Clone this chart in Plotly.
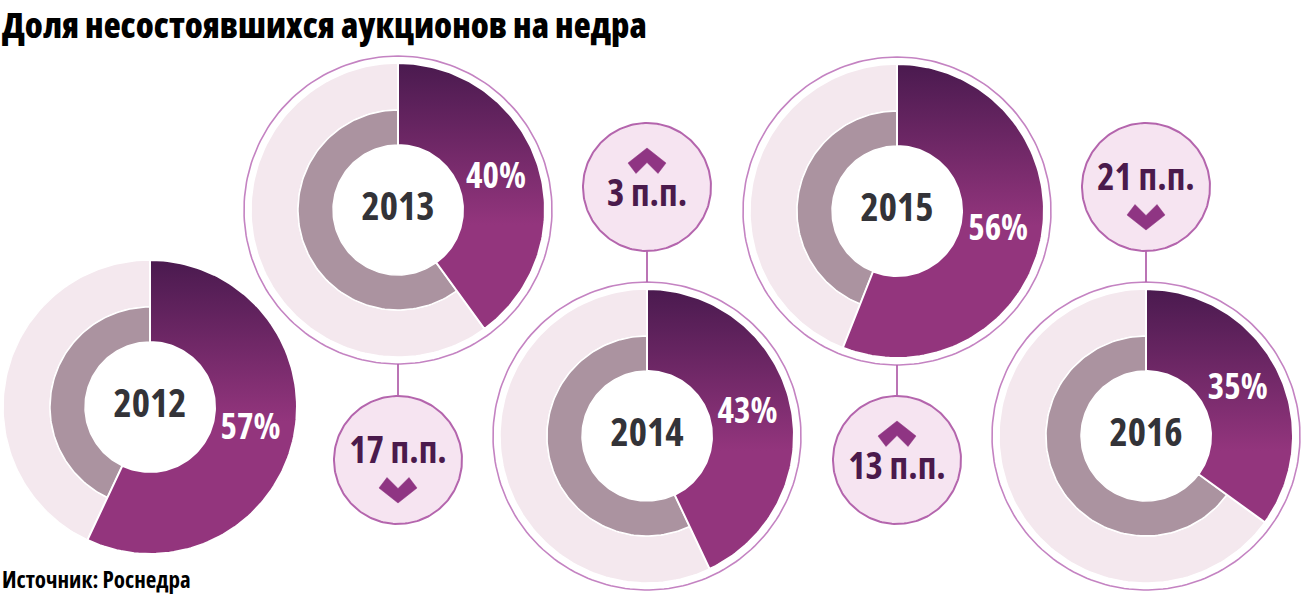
import numpy as np
import plotly.graph_objects as go

# ---- data ----
years = ["2012", "2013", "2014", "2015", "2016"]
shares = [57, 40, 43, 56, 35]          # % of failed auctions
title_text = "Доля несостоявшихся аукционов на недра"
source_text = "Источник: Роснедра"
unit = "п.п."

# ---- layout (pixel space) ----
W, H = 1301, 595
centers_x = [150, 398, 647, 897, 1146]
centers_y = [407, 210, 436, 211, 436]
outlined = [False, True, True, True, True]
R_OUT, R_MID, R_HOLE, R_RING = 147, 100, 65, 154
R_BADGE = 64

PINK = "#f4e8ee"
GRAY = "#ab93a0"
DARK = "#4a1a4f"
LIGHT = "#93357d"
RING = "#c483c2"
BADGE_FILL = "#f6e4f1"
BADGE_LINE = "#b465ad"
BADGE_TEXT = "#4a1a4c"
CHEV = "#8f3583"

FONT = "Open Sans, Roboto, DejaVu Sans Condensed, sans-serif"


def cond(s, weight=700):
    return f"<span style='font-stretch:condensed;font-weight:{weight}'>{s}</span>"


def sector(cx, cy, f0, f1, r_in, r_out, n=120):
    t = np.linspace(2 * np.pi * f0, 2 * np.pi * f1, n)
    xo = cx + r_out * np.sin(t)
    yo = cy - r_out * np.cos(t)
    xi = cx + r_in * np.sin(t[::-1])
    yi = cy - r_in * np.cos(t[::-1])
    xs = np.concatenate([xo, xi, xo[:1]])
    ys = np.concatenate([yo, yi, yo[:1]])
    return xs, ys


def circle(cx, cy, r, n=200):
    t = np.linspace(0, 2 * np.pi, n)
    return cx + r * np.sin(t), cy - r * np.cos(t)


fig = go.Figure()

for i, (yr, v) in enumerate(zip(years, shares)):
    cx, cy = centers_x[i], centers_y[i]
    f = v / 100.0
    if outlined[i]:
        xs, ys = circle(cx, cy, R_RING)
        fig.add_trace(go.Scatter(x=xs, y=ys, mode="lines",
                                 line=dict(color=RING, width=1.6),
                                 hoverinfo="skip", showlegend=False))
    # pink remainder (outer ring)
    xs, ys = sector(cx, cy, f, 1.0, R_MID, R_OUT)
    fig.add_trace(go.Scatter(x=xs, y=ys, mode="lines", fill="toself",
                             fillcolor=PINK, line=dict(color="white", width=1.5),
                             hoverinfo="skip", showlegend=False))
    # gray remainder (inner ring)
    xs, ys = sector(cx, cy, f, 1.0, R_HOLE, R_MID)
    fig.add_trace(go.Scatter(x=xs, y=ys, mode="lines", fill="toself",
                             fillcolor=GRAY, line=dict(color="white", width=1.5),
                             hoverinfo="skip", showlegend=False))
    # purple share wedge
    xs, ys = sector(cx, cy, 0.0, f, R_HOLE, R_OUT)
    fig.add_trace(go.Scatter(x=xs, y=ys, mode="lines", fill="toself",
                             fillcolor=LIGHT,
                             fillgradient=dict(type="vertical",
                                               colorscale=[[0, DARK], [1, LIGHT]],
                                               start=cy - R_OUT, stop=cy + 0.1 * R_OUT),
                             line=dict(color="white", width=2),
                             hoverinfo="skip", showlegend=False))
    # labels
    mid = 2 * np.pi * f / 2
    lx = cx + 103 * np.sin(mid)
    ly = cy - 103 * np.cos(mid)
    fig.add_trace(go.Scatter(x=[lx], y=[ly + 1], mode="text", text=[cond(f"{v}%")],
                             textfont=dict(family=FONT, size=35, color="white"),
                             hoverinfo="skip", showlegend=False))
    fig.add_trace(go.Scatter(x=[cx], y=[cy], mode="text", text=[cond(yr)],
                             textfont=dict(family=FONT, size=39, color="#333338"),
                             hoverinfo="skip", showlegend=False))

# ---- change badges ----
for i in range(1, len(shares)):
    d = shares[i] - shares[i - 1]
    cx = centers_x[i]
    dcy = centers_y[i]
    above = dcy > 300          # donut is low -> badge above it
    if above:
        by = 187
        ly0, ly1 = by + R_BADGE, dcy - R_RING
    else:
        by = 460
        ly0, ly1 = dcy + R_RING, by - R_BADGE
    # connector
    fig.add_trace(go.Scatter(x=[cx, cx], y=[ly0, ly1], mode="lines",
                             line=dict(color=BADGE_LINE, width=1.8),
                             hoverinfo="skip", showlegend=False))
    xs, ys = circle(cx, by, R_BADGE)
    fig.add_trace(go.Scatter(x=xs, y=ys, mode="lines", fill="toself",
                             fillcolor=BADGE_FILL, line=dict(color=BADGE_LINE, width=2),
                             hoverinfo="skip", showlegend=False))
    up = d > 0
    if up:
        chev_y, text_y = by - 26, by + 10
        sgn = -1
    else:
        chev_y, text_y = by + 30, by - 6
        sgn = 1
    # chevron polygon (pointing down if sgn=1)
    px = np.array([-19, -11, 0, 11, 19, 0, -19])
    py = np.array([-2, -12.5, -1.5, -12.5, -2, 13, -2]) * sgn
    fig.add_trace(go.Scatter(x=cx + px, y=chev_y + py, mode="lines", fill="toself",
                             fillcolor=CHEV, line=dict(color=CHEV, width=0.5),
                             hoverinfo="skip", showlegend=False))
    fig.add_trace(go.Scatter(x=[cx], y=[text_y], mode="text",
                             text=[cond(f"{abs(d)} {unit}")],
                             textfont=dict(family=FONT, size=37, color=BADGE_TEXT),
                             hoverinfo="skip", showlegend=False))

fig.add_annotation(x=0, y=24, xref="x", yref="y", xanchor="left", yanchor="middle",
                   text=cond(title_text, 800), showarrow=False,
                   font=dict(family=FONT, size=35, color="#000000"))
fig.add_annotation(x=0, y=579, xref="x", yref="y", xanchor="left", yanchor="middle",
                   text=cond(source_text), showarrow=False,
                   font=dict(family=FONT, size=23, color="#000000"))

fig.update_layout(
    width=W, height=H,
    margin=dict(l=0, r=0, t=0, b=0),
    paper_bgcolor="white", plot_bgcolor="white",
    xaxis=dict(range=[0, W], visible=False, fixedrange=True),
    yaxis=dict(range=[H, 0], visible=False, fixedrange=True),
    showlegend=False,
)

fig.write_html("out.html", config={"displayModeBar": False},
               post_script="document.body.style.margin='0px';")
